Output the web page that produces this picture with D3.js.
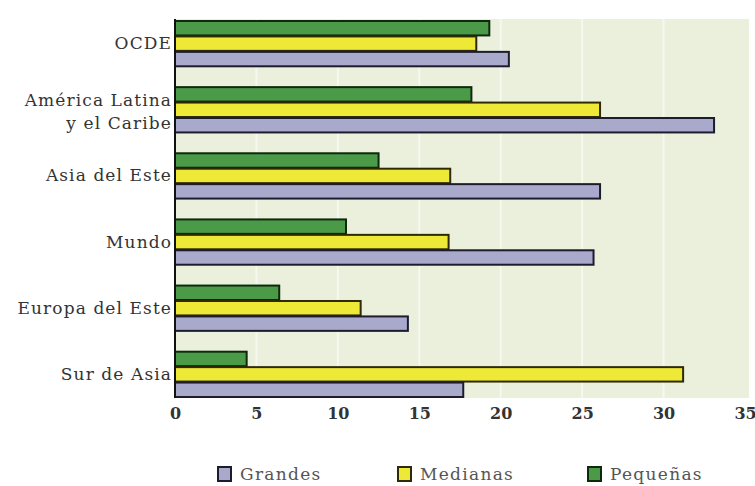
<!DOCTYPE html>
<html>
<head>
<meta charset="utf-8">
<script src="https://cdn.jsdelivr.net/npm/d3@7"></script>
<style>
  body { margin: 0; background: #fff; }
  text { font-family: "DejaVu Serif", serif; }
</style>
</head>
<body>
<svg id="chart" width="755" height="486"></svg>
<script>
var regions = ["OCDE", "América Latina|y el Caribe", "Asia del Este", "Mundo", "Europa del Este", "Sur de Asia"];
var seriesNames = ["Pequeñas", "Medianas", "Grandes"];
var pequenas = [19.3, 18.2, 12.5, 10.5, 6.4, 4.4];
var medianas = [18.5, 26.1, 16.9, 16.8, 11.4, 31.2];
var grandes = [20.5, 33.1, 26.1, 25.7, 14.3, 17.7];
var xTicks = [0, 5, 10, 15, 20, 25, 30, 35];
var legendOrder = ["Grandes", "Medianas", "Pequeñas"];

var colors = { "Pequeñas": "#4b9a48", "Medianas": "#eee836", "Grandes": "#a9a9cb" };
var borders = { "Pequeñas": "#0d2a0d", "Medianas": "#2e2a08", "Grandes": "#1c1c2e" };
var values = { "Pequeñas": pequenas, "Medianas": medianas, "Grandes": grandes };

var svg = d3.select("#chart");
var plotLeft = 175, plotRight = 745, plotTop = 19, plotBottom = 398;

var x = d3.scaleLinear().domain([0, 35]).range([plotLeft, plotRight]);
var y = d3.scaleBand().domain(d3.range(regions.length)).range([plotTop + 1, plotBottom - 1]).paddingInner(0.3).paddingOuter(0);
var ySub = d3.scaleBand().domain(seriesNames).range([0, y.bandwidth()]);

// plot background
svg.append("rect")
    .attr("x", plotLeft).attr("y", plotTop)
    .attr("width", plotRight + 4 - plotLeft).attr("height", plotBottom - plotTop)
    .attr("fill", "#ebf0dd");

// grid lines
svg.append("g").selectAll("line")
    .data(xTicks.slice(1, -1))
    .enter().append("line")
    .attr("x1", function (d) { return x(d); })
    .attr("x2", function (d) { return x(d); })
    .attr("y1", plotTop).attr("y2", plotBottom)
    .attr("stroke", "#f6f8ef")
    .attr("stroke-width", 2);

// bars
var groups = svg.append("g").selectAll("g")
    .data(regions)
    .enter().append("g")
    .attr("transform", function (d, i) { return "translate(0," + y(i) + ")"; });

groups.each(function (d, i) {
    var g = d3.select(this);
    seriesNames.forEach(function (s) {
        g.append("rect")
            .attr("x", x(0))
            .attr("y", ySub(s) + 1)
            .attr("width", x(values[s][i]) - x(0))
            .attr("height", ySub.bandwidth() - 1)
            .attr("fill", colors[s])
            .attr("stroke", borders[s])
            .attr("stroke-width", 2);
    });
});

// category labels
groups.each(function (d, i) {
    var lines = d.split("|");
    var g = d3.select(this);
    var cy = y.bandwidth() / 2 + (lines.length > 1 ? 2 : 0);
    var lh = 23;
    lines.forEach(function (t, k) {
        g.append("text")
            .attr("x", plotLeft - 3)
            .attr("y", cy + (k - (lines.length - 1) / 2) * lh)
            .attr("dy", "0.35em")
            .attr("text-anchor", "end")
            .attr("font-size", 17)
            .attr("letter-spacing", 1.1)
            .attr("fill", "#333")
            .text(t);
    });
});

// left axis line
svg.append("line")
    .attr("x1", plotLeft).attr("x2", plotLeft)
    .attr("y1", plotTop).attr("y2", plotBottom)
    .attr("stroke", "#111").attr("stroke-width", 2);

// x axis
var xAxis = svg.append("g")
    .attr("transform", "translate(0," + (plotBottom + 10) + ")")
    .call(d3.axisBottom(x).tickValues(xTicks).tickSize(0).tickPadding(0));
xAxis.select(".domain").remove();
xAxis.selectAll("text")
    .attr("font-size", 16)
    .attr("font-weight", "bold")
    .attr("fill", "#333")
    .style("font-family", "DejaVu Serif, serif");

// legend
var legendX = [217, 397, 587];
var legend = svg.append("g").selectAll("g")
    .data(legendOrder)
    .enter().append("g")
    .attr("transform", function (d, i) { return "translate(" + legendX[i] + ",474)"; });
legend.append("rect")
    .attr("x", 1).attr("y", -7)
    .attr("width", 13).attr("height", 14)
    .attr("fill", function (d) { return colors[d]; })
    .attr("stroke", function (d) { return borders[d]; })
    .attr("stroke-width", 2);
legend.append("text")
    .attr("x", 23).attr("y", 0)
    .attr("dy", "0.35em")
    .attr("font-size", 17)
    .attr("letter-spacing", 1.3)
    .attr("fill", "#555")
    .text(function (d) { return d; });
</script>
</body>
</html>
